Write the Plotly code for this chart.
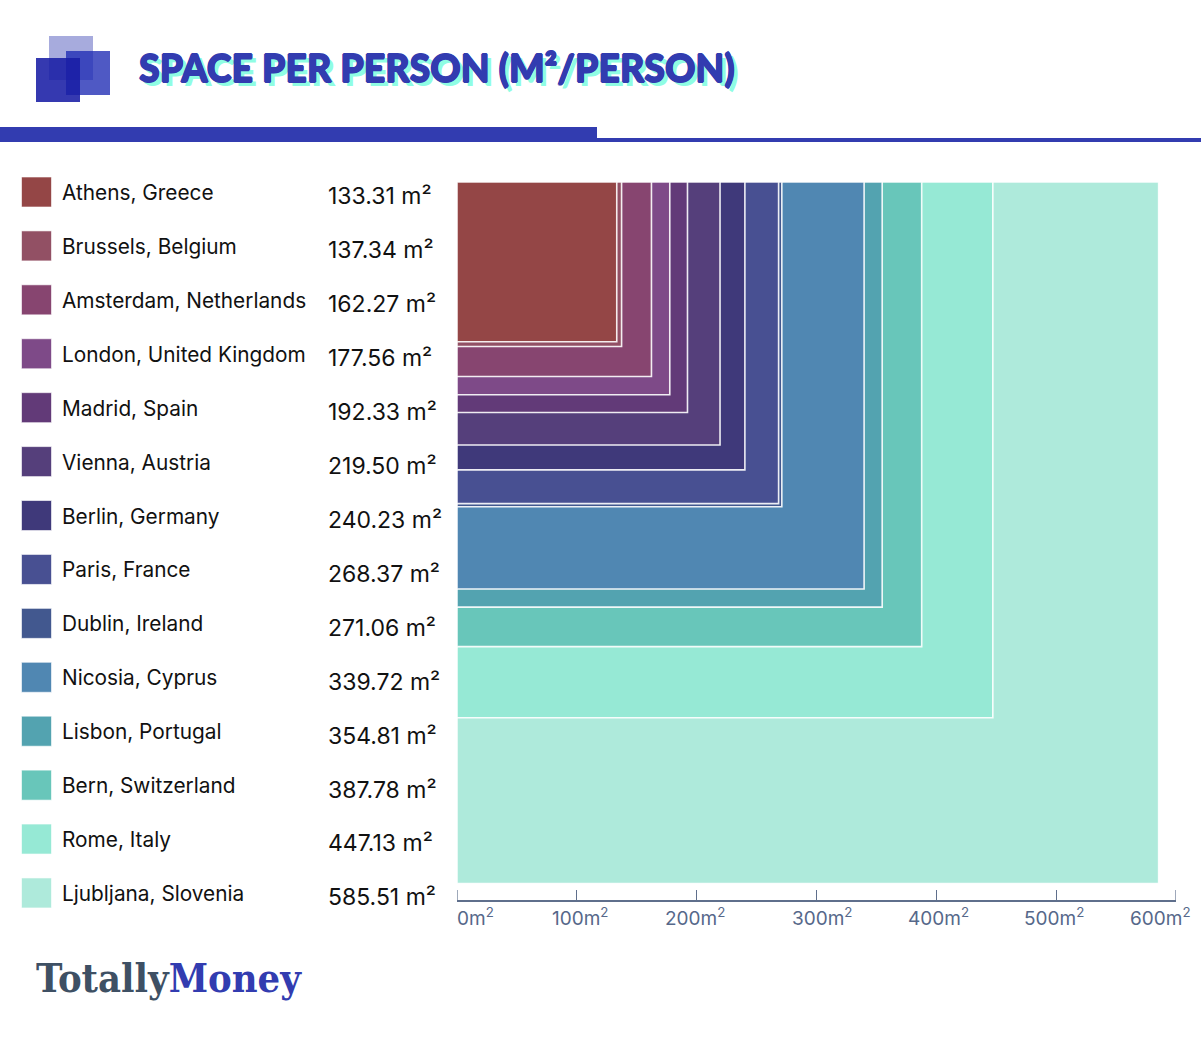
import plotly.graph_objects as go

cities = ["Athens, Greece", "Brussels, Belgium", "Amsterdam, Netherlands", "London, United Kingdom",
          "Madrid, Spain", "Vienna, Austria", "Berlin, Germany", "Paris, France", "Dublin, Ireland",
          "Nicosia, Cyprus", "Lisbon, Portugal", "Bern, Switzerland", "Rome, Italy", "Ljubljana, Slovenia"]
space = [133.31, 137.34, 162.27, 177.56, 192.33, 219.50, 240.23, 268.37, 271.06, 339.72, 354.81, 387.78, 447.13, 585.51]
colors = ["#944646", "#925064", "#874570", "#7e4a88", "#623a78", "#553f7b", "#3f397a", "#485092",
          "#42588f", "#5087b2", "#53a3b0", "#68c6ba", "#96e9d5", "#aeeadb"]
tick_vals = [0, 100, 200, 300, 400, 500, 600]
tick_text = ["0m<sup>2</sup>", "100m<sup>2</sup>", "200m<sup>2</sup>", "300m<sup>2</sup>",
             "400m<sup>2</sup>", "500m<sup>2</sup>", "600m<sup>2</sup>"]
tick_shift = [18, 3, -2, 5, 2, -2, -16]
title_text = "SPACE PER PERSON (M²/PERSON)"

W, H = 1201, 1046
L, R, T, B = 457, 1176, 182, 900
BLUE = "#323cb0"
AXIS = "#5f6f8c"


def px(x):
    return (x - L) / (R - L)


def py(y):
    return (B - y) / (B - T)


fig = go.Figure()
for city, v, c in sorted(zip(cities, space, colors), key=lambda t: -t[1]):
    fig.add_trace(go.Scatter(
        x=[0, v, v, 0, 0], y=[0, 0, v, v, 0], mode="lines", fill="toself", fillcolor=c,
        line=dict(color="rgba(255,255,255,0.9)", width=1.6), name=city, showlegend=False,
        hoverinfo="name"))

shapes = []
annotations = []


def rect(x0, y0, x1, y1, color, line=None):
    shapes.append(dict(type="rect", xref="paper", yref="paper", x0=px(x0), x1=px(x1), y0=py(y0), y1=py(y1),
                       fillcolor=color, line=dict(width=0) if line is None else dict(color=line, width=1)))


def text(x, y, s, size, color="#111111", family="Inter", anchor="left", **kw):
    annotations.append(dict(xref="paper", yref="paper", x=px(x), y=py(y), text=s, showarrow=False,
                            xanchor=anchor, yanchor="middle", align="left", borderpad=0,
                            font=dict(size=size, color=color, family=family, **kw)))


# legend rows
for i, (city, v, c) in enumerate(zip(cities, space, colors)):
    yc = 192 + i * 53.92
    rect(21.5, yc - 15, 51.5, yc + 15, c, line="rgba(255,255,255,0.6)")
    text(61, yc + 0.5, city, 20.8)
    text(327, yc + 4.4, f"{v:.2f} m²", 23)

# x tick labels and the end ticks that plotly clips for inside ticks
for v, t, s in zip(tick_vals, tick_text, tick_shift):
    annotations.append(dict(xref="x", yref="paper", x=v, y=py(916.5), text=t, showarrow=False, xshift=s,
                            xanchor="center", yanchor="middle", font=dict(size=19, color="#56688a", family="Inter")))
for v in (tick_vals[0], tick_vals[-1]):
    shapes.append(dict(type="line", xref="x", yref="paper", x0=v, x1=v, y0=0, y1=py(B - 10),
                       line=dict(color=AXIS, width=1.2)))

# header art
rect(49, 36, 93, 80, "rgba(50,60,176,0.43)")
rect(66, 51, 110, 95, "rgba(30,42,180,0.78)")
rect(36, 58, 80, 102, "rgba(25,30,165,0.88)")
rect(0, 127, 597, 142, BLUE)
rect(597, 138, W, 142, BLUE)
text(138, 68, title_text, 37.5, color=BLUE, family="Lato", weight=900,
     shadow=f"0.7px 0 0 {BLUE}, -0.7px 0 0 {BLUE}, 0 0.7px 0 {BLUE}, 0 -0.7px 0 {BLUE}, 4px 4px 0 #8ffde3")

# brand
text(35, 978, '<span style="color:#3e5064">Totally</span><span style="color:#323cb0">Money</span>', 39.5,
     family="DejaVu Serif Condensed, DejaVu Serif", weight=700)

fig.update_layout(
    width=W, height=H, margin=dict(l=L, r=W - R, t=T, b=H - B, pad=0, autoexpand=False),
    paper_bgcolor="white", plot_bgcolor="white", showlegend=False,
    shapes=shapes, annotations=annotations,
    xaxis=dict(range=[0, 600], tickvals=tick_vals, showticklabels=False, ticks="inside", ticklen=10, tickwidth=1,
               tickcolor=AXIS, showline=True, linecolor=AXIS, linewidth=1.5, mirror=False, showgrid=False,
               zeroline=False, fixedrange=True),
    yaxis=dict(range=[599.2, 0], visible=False, showgrid=False, zeroline=False, fixedrange=True),
)
fig.write_html("out.html", config=dict(displayModeBar=False),
               post_script="document.body.style.margin='0';document.body.style.overflow='hidden';")
